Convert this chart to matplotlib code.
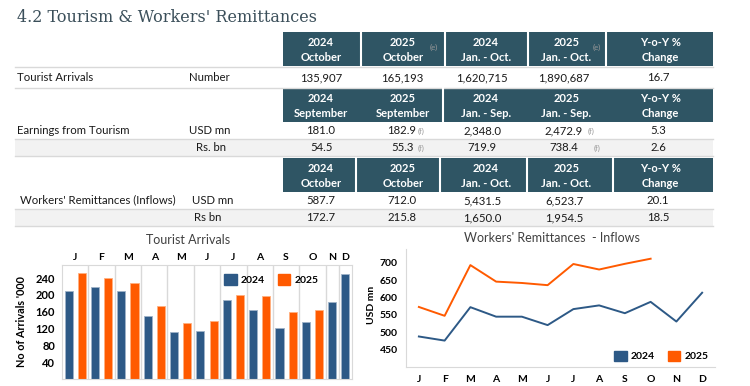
import matplotlib
matplotlib.use("Agg")
import matplotlib.pyplot as plt
from matplotlib.patches import Rectangle, Patch

# ---------------------------------------------------------------------------
# Data
# ---------------------------------------------------------------------------
months = ["J", "F", "M", "A", "M", "J", "J", "A", "S", "O", "N", "D"]

# Tourist arrivals ('000)
arrivals_2024 = [208.3, 218.4, 209.2, 148.9, 112.1, 113.5, 187.8, 164.6, 122.1, 135.9, 184.2, 248.6]
arrivals_2025 = [252.8, 240.2, 229.3, 174.6, 132.9, 138.2, 200.2, 198.2, 159.0, 165.2]

# Workers' remittances (USD mn)
remit_2024 = [487.9, 476.1, 572.4, 545.0, 545.0, 520.7, 566.8, 577.5, 555.0, 587.7, 531.0, 614.0]
remit_2025 = [573.0, 547.5, 693.6, 646.0, 642.1, 635.8, 696.8, 680.9, 697.3, 712.0]

# Table
hdr_tourist = [("2024", "October"), ("2025", "October"), ("2024", "Jan. - Oct."),
               ("2025", "Jan. - Oct."), ("Y-o-Y %", "Change")]
hdr_earn = [("2024", "September"), ("2025", "September"), ("2024", "Jan. - Sep."),
            ("2025", "Jan. - Sep."), ("Y-o-Y %", "Change")]
hdr_remit = [("2024", "October"), ("2025", "October"), ("2024", "Jan. - Oct."),
             ("2025", "Jan. - Oct."), ("Y-o-Y %", "Change")]
row_tourist = ["135,907", "165,193", "1,620,715", "1,890,687", "16.7"]
row_earn_usd = ["181.0", "182.9", "2,348.0", "2,472.9", "5.3"]
row_earn_rs = ["54.5", "55.3", "719.9", "738.4", "2.6"]
row_remit_usd = ["587.7", "712.0", "5,431.5", "6,523.7", "20.1"]
row_remit_rs = ["172.7", "215.8", "1,650.0", "1,954.5", "18.5"]

HDR = "#2f5564"
BLUE = "#2d5986"
ORANGE = "#ff5a00"
GRID = "#d9d9d9"
TXT = "#1a1a1a"
FONT = "Lato"

W, H = 750, 386
fig = plt.figure(figsize=(W / 100, H / 100), dpi=100)
fig.patch.set_facecolor("white")

# ---------------------------------------------------------------------------
# Table layer in pixel coordinates
# ---------------------------------------------------------------------------
tab = fig.add_axes([0, 0, 1, 1])
tab.set_xlim(0, W)
tab.set_ylim(H, 0)
tab.axis("off")

tab.text(17, 18, "4.2 Tourism & Workers' Remittances", family="DejaVu Serif",
         fontsize=11.5, color="#3b4f5a", va="center", ha="left")

cols = [(283, 359), (362, 444), (445, 527), (528, 605), (607, 713)]
val_x = [321, 402, 482, 564, 658]


def header(y0, y1, labels, seps):
    tab.add_patch(Rectangle((283, y0), 713 - 283, y1 - y0, color=HDR, lw=0))
    for sx in seps:
        tab.plot([sx, sx], [y0, y1], color="white", lw=1.5)
    for (x0, x1), (a, b) in zip(cols, labels):
        cx = (x0 + x1) / 2
        tab.text(cx, y0 + (y1 - y0) * 0.3, a, color="white", fontsize=8, family=FONT,
                 fontweight="bold", ha="center", va="center")
        tab.text(cx, y0 + (y1 - y0) * 0.75, b, color="white", fontsize=8, family=FONT,
                 fontweight="bold", ha="center", va="center")


def row(y0, y1, values, shade=False):
    if shade:
        tab.add_patch(Rectangle((15, y0), 713 - 15, y1 - y0, color="#f2f2f2", lw=0))
    tab.plot([15, 713], [y1, y1], color=GRID, lw=1)
    for x, v in zip(val_x, values):
        tab.text(x, (y0 + y1) / 2, v, color=TXT, fontsize=8.2, family=FONT,
                 ha="center", va="center")


def note(x, y, s):
    tab.text(x, y, s, color="#999999", fontsize=5.5, family=FONT, ha="center", va="center")


def label(x, y, s):
    tab.text(x, y, s, color=TXT, fontsize=8.2, family=FONT, ha="left", va="center")


# Tourist arrivals block
header(32, 66, hdr_tourist, [360.5, 444.5, 527.5, 606])
tab.plot([15, 713], [67, 67], color=GRID, lw=1)
row(67, 88, row_tourist)
note(434, 47, "(e)")
note(597, 47, "(e)")
label(17, 77.5, "Tourist Arrivals")
label(189, 77.5, "Number")

# Earnings from tourism block
header(88, 122, hdr_earn, [443])
row(122, 139, row_earn_usd)
row(139, 156, row_earn_rs, shade=True)
note(421, 131, "(f)")
note(421, 148, "(f)")
note(591, 131, "(f)")
note(597, 148, "(f)")
label(17, 130, "Earnings from Tourism")
label(189, 130, "USD mn")
label(196, 147.5, "Rs. bn")

# Workers' remittances block
header(158, 192, hdr_remit, [356, 440, 527, 613])
row(192, 209, row_remit_usd)
row(209, 226, row_remit_rs, shade=True)
label(20, 200, "Workers' Remittances (Inflows)")
label(192, 200, "USD mn")
label(194, 217.5, "Rs bn")

# ---------------------------------------------------------------------------
# Tourist arrivals bar chart
# ---------------------------------------------------------------------------
ax1 = fig.add_axes([62 / W, 1 - 379 / H, 290 / W, 114 / H])
pos = 0
group_edges = [0]
group_centres = []
for i, m in enumerate(months):
    start = pos
    ax1.bar(pos + 0.5, arrivals_2024[i], width=0.62, color=BLUE,
            edgecolor="#9fb3c8", linewidth=0.6)
    pos += 1
    if i < len(arrivals_2025):
        ax1.bar(pos + 0.5, arrivals_2025[i], width=0.62, color=ORANGE,
                edgecolor="#ffb080", linewidth=0.6)
        pos += 1
    group_edges.append(pos)
    group_centres.append((start + pos) / 2)

ax1.set_xlim(0, pos)
ax1.set_ylim(0, 271)
for e in group_edges[1:-1]:
    ax1.axvline(e, color=GRID, lw=1, zorder=0)
for s in ax1.spines.values():
    s.set_color(GRID)
ax1.set_yticks([40, 80, 120, 160, 200, 240])
ax1.tick_params(axis="y", length=0, pad=5, labelsize=8)
ax1.xaxis.tick_top()
ax1.set_xticks(group_centres)
ax1.set_xticklabels(months)
ax1.tick_params(axis="x", length=0, pad=2, labelsize=7.5)
for t in ax1.get_xticklabels() + ax1.get_yticklabels():
    t.set_fontweight("bold")
    t.set_family(FONT)
ax1.set_ylabel("No of Arrivals '000", fontsize=7.8, fontweight="bold", family=FONT, labelpad=6)
fig.text(188 / W, 1 - 240 / H, "Tourist Arrivals", fontsize=9, family=FONT,
         color="#404040", ha="center", va="center")
ax1.legend(handles=[Patch(color=BLUE, label="2024"), Patch(color=ORANGE, label="2025")],
           loc="upper left", bbox_to_anchor=(215 / W, 1 - 265 / H),
           bbox_transform=fig.transFigure, ncol=2, frameon=False,
           prop={"family": FONT, "weight": "bold", "size": 7.5},
           handlelength=1.2, handleheight=1.2, columnspacing=1.2, handletextpad=0.4)

# ---------------------------------------------------------------------------
# Workers' remittances line chart
# ---------------------------------------------------------------------------
ax2 = fig.add_axes([406 / W, 1 - 367 / H, 309 / W, 118 / H])
x24 = list(range(len(remit_2024)))
x25 = list(range(len(remit_2025)))
ax2.plot(x24, remit_2024, color=BLUE, lw=1.4)
ax2.plot(x25, remit_2025, color=ORANGE, lw=1.4)
ax2.set_xlim(-0.5, 11.5)
ax2.set_ylim(400, 740)
ax2.set_yticks([450, 500, 550, 600, 650, 700])
ax2.set_xticks(x24)
ax2.set_xticklabels(months)
ax2.spines["top"].set_visible(False)
ax2.spines["right"].set_visible(False)
ax2.spines["left"].set_color(GRID)
ax2.spines["bottom"].set_color(GRID)
ax2.tick_params(length=0, labelsize=7.5)
ax2.tick_params(axis="x", pad=6)
ax2.tick_params(axis="y", pad=6)
for t in ax2.get_xticklabels() + ax2.get_yticklabels():
    t.set_fontweight("bold")
    t.set_family(FONT)
fig.text(372 / W, 1 - 305 / H, "USD mn", fontsize=7.5, fontweight="bold", family=FONT,
         rotation=90, ha="center", va="center")
fig.text(552 / W, 1 - 238 / H, "Workers' Remittances  - Inflows", fontsize=9, family=FONT,
         color="#404040", ha="center", va="center")
ax2.legend(handles=[Patch(color=BLUE, label="2024"), Patch(color=ORANGE, label="2025")],
           loc="center left", bbox_to_anchor=(605 / W, 1 - 356 / H),
           bbox_transform=fig.transFigure, ncol=2, frameon=False,
           prop={"family": FONT, "weight": "bold", "size": 7.5},
           handlelength=1.2, handleheight=1.2, columnspacing=1.2, handletextpad=0.4)

fig.savefig("out.png", dpi=100, facecolor="white")
